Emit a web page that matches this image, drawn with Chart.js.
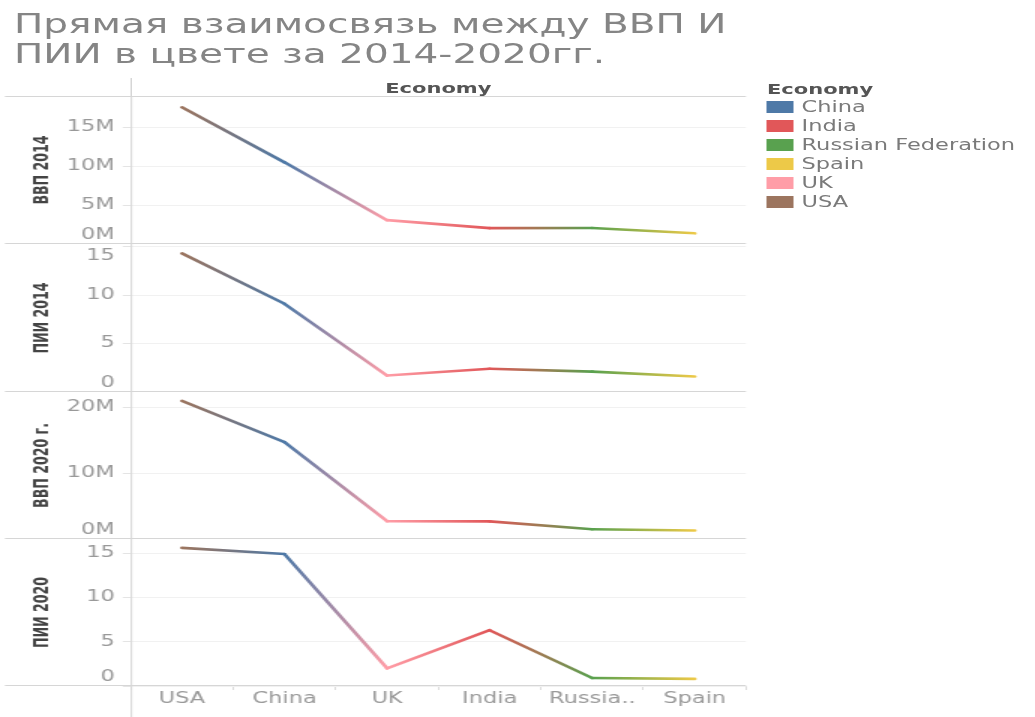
<!DOCTYPE html>
<html>
<head>
<meta charset="utf-8">
<script src="https://cdn.jsdelivr.net/npm/chart.js@4.4.1/dist/chart.umd.min.js"></script>
<style>
  html, body { margin: 0; padding: 0; background: #fff; overflow: hidden; }
  #stage { position: absolute; left: 0; top: 0; height: 717px; transform-origin: 0 0; font-family: 'DejaVu Sans', sans-serif; }
  #title { position: absolute; top: 9px; font-size: 26px; line-height: 30px; color: #858585; white-space: nowrap; }
  #header { position: absolute; top: 80px; height: 16px; line-height: 16px; text-align: center; font-weight: bold; font-size: 14px; color: #555; }
  #hline { position: absolute; top: 78px; height: 18px; border-left: 1px solid #d6d6d6; }
  .row { position: absolute; left: 0; }
  #legend { position: absolute; top: 81px; font-size: 15px; color: #7a7a7a; }
  #legend .t { font-weight: bold; color: #555; font-size: 14px; height: 17px; line-height: 17px; }
  #legend .i { height: 19px; line-height: 19px; white-space: nowrap; }
  #legend .sw { display: inline-block; width: 18px; height: 12px; vertical-align: -1px; margin-right: 5px; }
</style>
</head>
<body>
<div id="stage">
  <div id="title">Прямая взаимосвязь между ВВП И<br>ПИИ в цвете за 2014-2020гг.</div>
  <div id="hline"></div>
  <div id="header">Economy</div>
  <canvas id="r1" class="row"></canvas>
  <canvas id="r2" class="row"></canvas>
  <canvas id="r3" class="row"></canvas>
  <canvas id="r4" class="row"></canvas>
  <div id="legend"></div>
</div>
<script>
// the original picture is stretched sideways, so everything is drawn narrow and scaled
const SX = 1.5;
const px = v => v / SX;

const countries = ['USA', 'China', 'UK', 'India', 'Russian Federation', 'Spain'];
const tickLabels = ['USA', 'China', 'UK', 'India', 'Russia..', 'Spain'];
const gdp2014 = [17.55e6, 10.48e6, 3.06e6, 2.04e6, 2.06e6, 1.37e6];
const fdi2014 = [14.3, 9.1, 1.7, 2.4, 2.1, 1.6];
const gdp2020 = [20.95e6, 14.7e6, 2.7e6, 2.67e6, 1.48e6, 1.28e6];
const fdi2020 = [15.6, 14.9, 2.0, 6.3, 0.9, 0.8];

const legendOrder = ['China', 'India', 'Russian Federation', 'Spain', 'UK', 'USA'];
const colors = {
  'China': '#4e79a7',
  'India': '#e15759',
  'Russian Federation': '#59a14f',
  'Spain': '#edc948',
  'UK': '#ff9da7',
  'USA': '#9c755f'
};

const stage = document.getElementById('stage');
stage.style.width = px(1035) + 'px';
stage.style.transform = 'scaleX(' + SX + ')';

const axisLeft = px(130.7);
const plotRight = px(746);
const canvasW = px(750);

document.getElementById('title').style.left = px(14) + 'px';
const header = document.getElementById('header');
header.style.left = axisLeft + 'px';
header.style.width = (plotRight - axisLeft) + 'px';
document.getElementById('hline').style.left = axisLeft + 'px';

const legend = document.getElementById('legend');
legend.style.left = px(767) + 'px';
legend.innerHTML = '<div class="t">Economy</div>' + legendOrder.map(c =>
  `<div class="i"><span class="sw" style="background:${colors[c]}"></span>${c}</div>`).join('');

const frame = {
  id: 'frame',
  beforeDatasetsDraw(chart, args, opts) {
    const { ctx, chartArea: a } = chart;
    ctx.save();
    ctx.strokeStyle = '#d6d6d6';
    ctx.lineWidth = 1;
    ctx.beginPath();
    ctx.moveTo(a.left + 0.5, 0);
    ctx.lineTo(a.left + 0.5, chart.height);
    ctx.moveTo(px(5), a.bottom - 0.5);
    ctx.lineTo(a.right, a.bottom - 0.5);
    if (opts.top) {
      ctx.moveTo(px(5), a.top + 0.5);
      ctx.lineTo(a.right, a.top + 0.5);
    }
    ctx.stroke();
    ctx.restore();
  }
};

function blend(ctx) {
  const c = ctx.chart.ctx;
  const g = c.createLinearGradient(ctx.p0.x, ctx.p0.y, ctx.p1.x, ctx.p1.y);
  g.addColorStop(0, colors[countries[ctx.p0DataIndex]]);
  g.addColorStop(1, colors[countries[ctx.p1DataIndex]]);
  return g;
}

const tickFont = { family: 'DejaVu Sans', size: 15 };

function makeRow(id, top, height, values, max, ticks, fmt, label, shiftUp, shiftDown, last) {
  const cv = document.getElementById(id);
  cv.width = canvasW;
  cv.height = height;
  cv.style.top = top + 'px';
  new Chart(cv, {
    type: 'line',
    data: {
      labels: countries,
      datasets: [{
        data: values,
        borderWidth: 2.6,
        borderColor: '#999',
        borderCapStyle: 'round',
        borderJoinStyle: 'round',
        pointRadius: 0,
        tension: 0,
        clip: false,
        segment: { borderColor: blend }
      }]
    },
    plugins: [frame],
    options: {
      responsive: false,
      animation: false,
      events: [],
      layout: { padding: { left: 0, right: canvasW - plotRight, top: 0, bottom: 0 } },
      plugins: {
        legend: { display: false },
        tooltip: { enabled: false },
        frame: { top: id === 'r1' }
      },
      scales: {
        x: {
          display: last,
          offset: true,
          grid: { offset: true, drawOnChartArea: false, tickLength: 4, color: '#dcdcdc' },
          border: { display: false },
          ticks: {
            padding: 0,
            font: tickFont,
            color: '#999',
            maxRotation: 0,
            autoSkip: false,
            callback: (v, i) => tickLabels[i]
          },
          afterFit: s => {
            if (!last) return;
            s.height = 31;
            s.paddingLeft = 0;
            s.paddingRight = 0;
          }
        },
        y: {
          min: 0,
          max: max,
          afterBuildTicks: s => { s.ticks = ticks.map(v => ({ value: v })); },
          afterFit: s => { s.width = axisLeft; s.paddingTop = 0; s.paddingBottom = 0; },
          grid: { color: '#f1f1f1', tickColor: '#e4e4e4', tickLength: px(8) },
          border: { display: false },
          ticks: {
            autoSkip: false,
            padding: px(8),
            font: tickFont,
            color: '#999',
            callback: v => {
              const t = fmt(v);
              if (shiftUp && v === ticks[0]) return [t, ''];
              if (shiftDown && v === ticks[ticks.length - 1]) return ['', t];
              return t;
            }
          },
          title: {
            display: true,
            text: label,
            color: '#444',
            font: { family: "'DejaVu Sans Condensed', 'DejaVu Sans'", weight: 'bold', size: 14 },
            padding: { top: px(30), bottom: 0 }
          }
        }
      }
    }
  });
}

const money = v => (v / 1e6) + 'M';
const plain = v => String(v);

makeRow('r1', 96, 148, gdp2014, 19.0e6, [0, 5e6, 10e6, 15e6], money, 'ВВП 2014', true, false, false);
makeRow('r2', 244, 148, fdi2014, 15.27, [0, 5, 10, 15], plain, 'ПИИ 2014', true, true, false);
makeRow('r3', 392, 147, gdp2020, 22.3e6, [0, 10e6, 20e6], money, 'ВВП 2020 г.', true, false, false);
makeRow('r4', 539, 178, fdi2020, 16.6, [0, 5, 10, 15], plain, 'ПИИ 2020', true, false, true);
</script>
</body>
</html>
